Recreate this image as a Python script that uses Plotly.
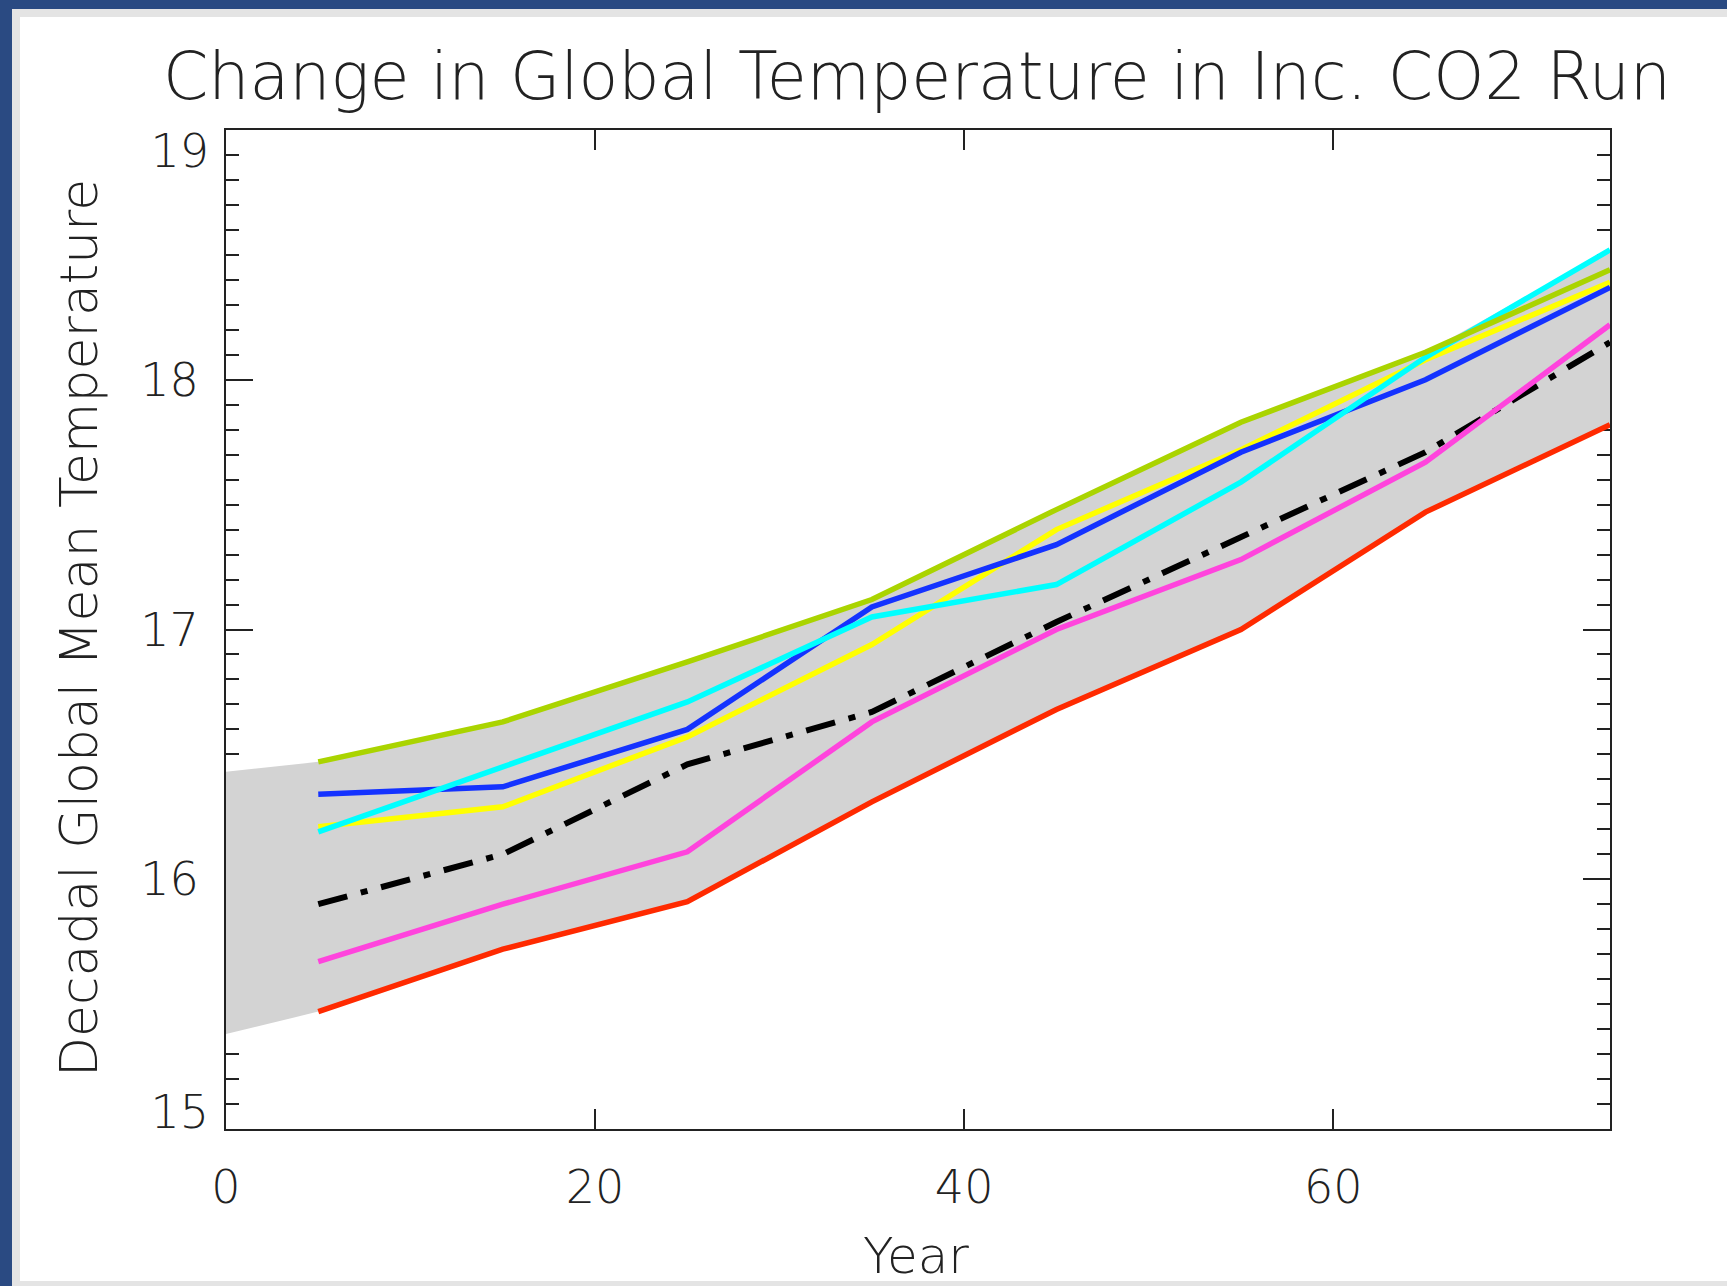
import plotly.graph_objects as go

# ---- data ----
years = [5, 15, 25, 35, 45, 55, 65, 75]
green = [16.47, 16.63, 16.87, 17.12, 17.48, 17.83, 18.11, 18.44]
blue = [16.34, 16.37, 16.60, 17.09, 17.34, 17.71, 18.00, 18.37]
yellow = [16.21, 16.29, 16.57, 16.94, 17.40, 17.72, 18.08, 18.39]
cyan = [16.19, 16.45, 16.71, 17.05, 17.18, 17.59, 18.09, 18.52]
ens_mean = [15.90, 16.10, 16.46, 16.67, 17.03, 17.37, 17.71, 18.15]
magenta = [15.67, 15.90, 16.11, 16.63, 17.00, 17.28, 17.67, 18.22]
red = [15.47, 15.72, 15.91, 16.31, 16.68, 17.00, 17.47, 17.82]

band_years = [0, 5, 15, 25, 35, 45, 55, 65, 75]
band_upper = [16.43, 16.47, 16.63, 16.87, 17.12, 17.48, 17.83, 18.11, 18.52]
band_lower = [15.38, 15.47, 15.72, 15.91, 16.31, 16.68, 17.00, 17.47, 17.82]

x_ticks = [0, 20, 40, 60]
y_ticks = [15, 16, 17, 18, 19]
y_inner_labels = ["", "16", "17", "18", ""]
y_top_tick, y_top_label = [19], ["19"]
y_bottom_tick, y_bottom_label = [15], ["15"]
y_range = [15, 19]

W, H = 1727, 1286
L, R, T, B = 226, 1610, 130, 1129
FONT = "DejaVu Sans"
WEIGHT = 200
AX = "#222222"
TXT = "#222222"

fig = go.Figure()

fig.add_trace(go.Scatter(
    x=band_years + band_years[::-1],
    y=band_upper + band_lower[::-1],
    fill="toself", fillcolor="#d3d3d3", mode="lines",
    line=dict(width=0, color="#d3d3d3"), hoverinfo="skip", showlegend=False))

fig.add_trace(go.Scatter(x=years, y=ens_mean, mode="lines",
                         line=dict(color="black", width=6, dash="30px,14px,7px,14px"),
                         showlegend=False))
series = [
    (magenta, "#ff44dd", "y"),
    (yellow, "#ffff00", "y"),
    (blue, "#1432ff", "y"),
    (cyan, "#00ffff", "y"),
    (green, "#aad400", "y2"),   # same scale; carries the "19" label axis
    (red, "#ff2a00", "y3"),     # same scale; carries the "15" label axis
]
for ys, col, yax in series:
    fig.add_trace(go.Scatter(x=years, y=ys, mode="lines", yaxis=yax,
                             line=dict(color=col, width=5.5), showlegend=False))


def px(xp):
    return (xp - L) / (R - L)


def py(yp):
    return (B - yp) / (B - T)


shapes = []
frame_blue = "#2a4a82"
frame_gray = "#e4e4e4"
shapes.append(dict(type="rect", xref="paper", yref="paper", x0=px(12), x1=px(W), y0=py(9), y1=py(17),
                   fillcolor=frame_gray, line=dict(width=0), layer="above"))
shapes.append(dict(type="rect", xref="paper", yref="paper", x0=px(12), x1=px(20), y0=py(9), y1=py(H),
                   fillcolor=frame_gray, line=dict(width=0), layer="above"))
shapes.append(dict(type="rect", xref="paper", yref="paper", x0=px(12), x1=px(W), y0=py(1281), y1=py(H),
                   fillcolor=frame_gray, line=dict(width=0), layer="above"))
shapes.append(dict(type="rect", xref="paper", yref="paper", x0=px(0), x1=px(W), y0=py(0), y1=py(9),
                   fillcolor=frame_blue, line=dict(width=0), layer="above"))
shapes.append(dict(type="rect", xref="paper", yref="paper", x0=px(0), x1=px(12), y0=py(0), y1=py(H),
                   fillcolor=frame_blue, line=dict(width=0), layer="above"))

tickfont = dict(family=FONT, size=46, color=TXT, weight=WEIGHT)

fig.update_layout(
    width=W, height=H, autosize=False,
    margin=dict(l=L, r=W - R, t=T, b=H - B, pad=0),
    paper_bgcolor="white", plot_bgcolor="white",
    font=dict(family=FONT, color=TXT, weight=WEIGHT),
    title=dict(text="Change in Global Temperature in Inc. CO2 Run",
               font=dict(family=FONT, size=65, color=TXT, weight=WEIGHT),
               x=917 / W, xref="container", xanchor="center",
               y=1 - 76 / H, yref="container", yanchor="middle"),
    shapes=shapes,
    annotations=[
        dict(text="Year", xref="paper", yref="paper", x=px(916), y=py(1256),
             xanchor="center", yanchor="middle", showarrow=False,
             font=dict(family=FONT, size=50, color=TXT, weight=WEIGHT)),
        dict(text="Decadal Global Mean Temperature", xref="paper", yref="paper",
             x=px(79), y=py(628), textangle=-90,
             xanchor="center", yanchor="middle", showarrow=False,
             font=dict(family=FONT, size=52, color=TXT, weight=WEIGHT)),
    ],
    yaxis=dict(
        range=y_range, tickvals=y_ticks, ticktext=y_inner_labels,
        ticks="inside", ticklen=27, tickwidth=2, tickcolor=AX,
        minor=dict(dtick=0.1, ticklen=13, tickwidth=2, tickcolor=AX, ticks="inside", showgrid=False),
        showline=True, linecolor=AX, linewidth=2, mirror="ticks",
        showgrid=False, zeroline=False, layer="below traces",
        tickfont=tickfont, ticklabelstandoff=16,
    ),
    # same-scale overlay axes: end labels nudged inside the frame as in the reference
    yaxis2=dict(overlaying="y", anchor="x", side="left", range=y_range,
                tickvals=y_top_tick, ticktext=y_top_label, ticks="", showline=False,
                showgrid=False, zeroline=False, tickfont=tickfont,
                ticklabelstandoff=16, ticklabelshift=21),
    yaxis3=dict(overlaying="y", anchor="x", side="left", range=y_range,
                tickvals=y_bottom_tick, ticktext=y_bottom_label, ticks="", showline=False,
                showgrid=False, zeroline=False, tickfont=tickfont,
                ticklabelstandoff=16, ticklabelshift=-17),
)

fig.update_xaxes(
    range=[0, 75], tickvals=x_ticks, ticktext=[str(v) for v in x_ticks],
    ticks="inside", ticklen=20, tickwidth=2, tickcolor=AX,
    showline=True, linecolor=AX, linewidth=2, mirror="ticks",
    showgrid=False, zeroline=False, layer="below traces",
    tickfont=tickfont, ticklabelstandoff=17,
)

fig.write_html("out.html", config={"displayModeBar": False},
               post_script="document.body.style.margin='0';")
